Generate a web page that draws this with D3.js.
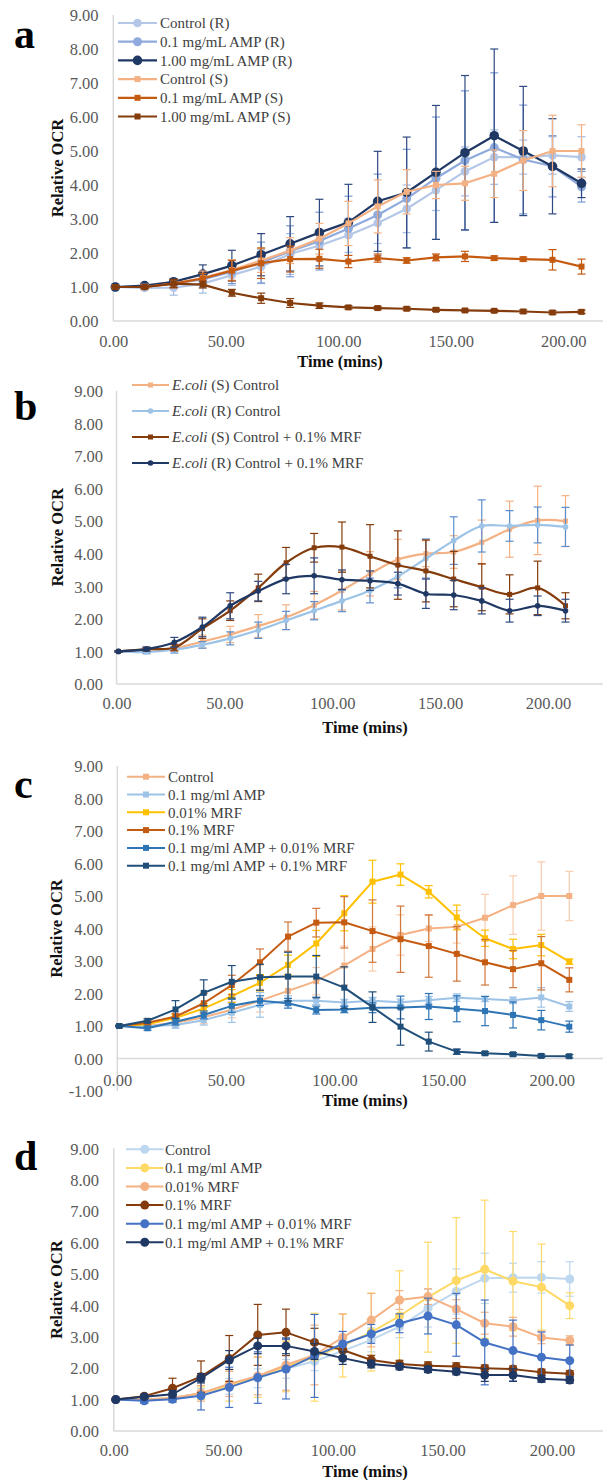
<!DOCTYPE html>
<html>
<head>
<meta charset="utf-8">
<script src="https://cdn.jsdelivr.net/npm/d3@7"></script>
<style>
  body { margin: 0; background: #fff; }
  svg { display: block; }
  text { font-family: "Liberation Serif", "Times New Roman", serif; }
</style>
</head>
<body>
<div id="chart"></div>
<script>
// sampling times (mins), same for all panels
var times = [0.9, 13.9, 26.8, 39.8, 52.7, 65.7, 78.6, 91.6, 104.5, 117.5, 130.4, 143.4, 156.3, 169.3, 182.2, 195.2, 208.1];
var xTicks = [0, 50, 100, 150, 200];
var yTicks = [0, 1, 2, 3, 4, 5, 6, 7, 8, 9];
var yTicksC = [-1, 0, 1, 2, 3, 4, 5, 6, 7, 8, 9];

// ---- panel a
var aNames = ["Control (R)", "0.1 mg/mL AMP (R)", "1.00 mg/mL AMP (R)", "Control (S)", "0.1 mg/mL AMP (S)", "1.00 mg/mL AMP (S)"];
var aControlR = [1.00,0.97,0.98,1.10,1.35,1.60,1.97,2.22,2.52,2.88,3.30,3.85,4.40,4.82,4.82,4.87,4.82];
var aControlRErr = [0.03,0.05,0.22,0.28,0.30,0.50,0.60,0.45,0.50,0.60,0.70,0.60,0.72,0.80,0.50,0.55,0.60];
var aAmpLowR = [1.00,1.02,1.10,1.22,1.45,1.72,2.05,2.35,2.72,3.12,3.60,4.20,4.72,5.10,4.75,4.55,3.95];
var aAmpLowRErr = [0.03,0.05,0.12,0.22,0.35,0.60,0.75,0.85,0.95,1.20,1.45,1.80,2.05,2.20,1.60,0.90,0.45];
var aAmpHighR = [1.00,1.04,1.15,1.38,1.63,1.95,2.27,2.60,2.90,3.52,3.78,4.37,4.95,5.45,5.00,4.55,4.05];
var aAmpHighRErr = [0.03,0.05,0.10,0.27,0.45,0.62,0.80,0.98,1.12,1.47,1.63,1.97,2.27,2.55,1.90,1.40,0.42];
var aControlS = [1.00,1.00,1.10,1.27,1.50,1.78,2.07,2.42,2.87,3.37,3.80,4.00,4.05,4.33,4.72,5.00,5.00];
var aControlSErr = [0.02,0.08,0.12,0.20,0.30,0.35,0.38,0.45,0.65,0.78,0.65,0.40,0.50,0.70,0.88,1.05,0.77];
var aAmpLowS = [1.00,1.00,1.10,1.25,1.48,1.70,1.82,1.83,1.75,1.85,1.78,1.87,1.90,1.85,1.82,1.80,1.60];
var aAmpLowSErr = [0.02,0.05,0.12,0.15,0.30,0.45,0.38,0.28,0.18,0.12,0.08,0.10,0.15,0.06,0.06,0.30,0.22];
var aAmpHighS = [1.00,1.00,1.10,1.07,0.83,0.67,0.53,0.45,0.40,0.38,0.36,0.33,0.31,0.30,0.28,0.25,0.27];
var aAmpHighSErr = [0.02,0.04,0.12,0.10,0.10,0.15,0.13,0.08,0.05,0.05,0.05,0.05,0.04,0.04,0.05,0.05,0.05];

// ---- panel b
var bNames = ["E.coli (S) Control", "E.coli (R) Control", "E.coli (S) Control + 0.1% MRF", "E.coli (R) Control + 0.1% MRF"];
var bControlS = [1.00,1.02,1.10,1.30,1.52,1.78,2.05,2.42,2.87,3.38,3.82,4.00,4.05,4.35,4.75,5.02,5.00];
var bControlSErr = [0.02,0.06,0.10,0.20,0.25,0.35,0.38,0.42,0.60,0.68,0.62,0.40,0.50,0.68,0.86,1.05,0.78];
var bControlR = [1.00,0.98,1.05,1.20,1.40,1.65,1.95,2.25,2.55,2.87,3.30,3.85,4.40,4.85,4.85,4.88,4.82];
var bControlRErr = [0.02,0.05,0.10,0.10,0.20,0.25,0.28,0.28,0.33,0.38,0.35,0.60,0.73,0.80,0.47,0.55,0.60];
var bMrfS = [1.00,1.07,1.12,1.70,2.25,2.95,3.72,4.18,4.20,3.92,3.65,3.47,3.22,2.97,2.75,2.95,2.40];
var bMrfSErr = [0.02,0.06,0.10,0.30,0.30,0.42,0.47,0.44,0.77,0.97,1.05,0.95,0.85,0.72,0.60,0.82,0.40];
var bMrfR = [1.00,1.07,1.28,1.75,2.40,2.85,3.22,3.32,3.20,3.17,3.08,2.77,2.73,2.55,2.25,2.40,2.25];
var bMrfRErr = [0.02,0.06,0.15,0.30,0.40,0.30,0.45,0.55,0.30,0.30,0.35,0.45,0.45,0.40,0.35,0.30,0.35];

// ---- panel c
var cNames = ["Control", "0.1 mg/ml AMP", "0.01% MRF", "0.1% MRF", "0.1 mg/ml AMP + 0.01% MRF", "0.1 mg/ml AMP + 0.1% MRF"];
var cControl = [1.00,1.00,1.10,1.27,1.50,1.78,2.08,2.38,2.86,3.37,3.80,4.00,4.05,4.33,4.72,5.00,5.00];
var cControlErr = [0.02,0.06,0.10,0.20,0.25,0.35,0.38,0.42,0.60,0.68,0.62,0.40,0.50,0.72,0.90,1.05,0.76];
var cAmp = [1.00,1.00,1.03,1.18,1.41,1.65,1.78,1.78,1.72,1.78,1.73,1.79,1.87,1.83,1.79,1.88,1.60];
var cAmpErr = [0.02,0.05,0.10,0.15,0.30,0.38,0.15,0.12,0.10,0.10,0.10,0.12,0.12,0.08,0.10,0.30,0.15];
var cMrfLow = [1.00,1.05,1.25,1.54,1.92,2.33,2.88,3.54,4.47,5.44,5.66,5.13,4.34,3.70,3.37,3.49,2.98];
var cMrfLowErr = [0.02,0.05,0.10,0.15,0.20,0.25,0.30,0.40,0.54,0.66,0.33,0.19,0.38,0.25,0.30,0.33,0.08];
var cMrfHigh = [1.00,1.10,1.29,1.70,2.26,2.96,3.75,4.18,4.19,3.92,3.67,3.46,3.22,2.96,2.75,2.93,2.42];
var cMrfHighErr = [0.02,0.06,0.10,0.30,0.30,0.41,0.45,0.44,0.79,0.96,1.02,0.96,0.84,0.70,0.57,0.82,0.37];
var cAmpMrfLow = [1.00,0.93,1.13,1.34,1.62,1.78,1.70,1.49,1.51,1.56,1.57,1.60,1.53,1.46,1.34,1.18,0.98];
var cAmpMrfLowErr = [0.02,0.06,0.10,0.12,0.20,0.15,0.15,0.12,0.10,0.15,0.35,0.40,0.40,0.45,0.40,0.30,0.17];
var cAmpMrfHigh = [1.00,1.16,1.51,2.02,2.36,2.50,2.52,2.52,2.18,1.58,0.98,0.52,0.21,0.16,0.13,0.08,0.07];
var cAmpMrfHighErr = [0.02,0.06,0.27,0.40,0.50,0.40,0.75,0.65,0.64,0.47,0.57,0.29,0.08,0.05,0.05,0.05,0.05];

// ---- panel d
var dNames = ["Control", "0.1 mg/ml AMP", "0.01% MRF", "0.1% MRF", "0.1 mg/ml AMP + 0.01% MRF", "0.1 mg/ml AMP + 0.1% MRF"];
var dControl = [1.00,0.98,1.05,1.20,1.42,1.68,1.98,2.22,2.55,2.90,3.32,3.91,4.44,4.86,4.88,4.89,4.84];
var dControlErr = [0.02,0.05,0.10,0.15,0.25,0.30,0.30,0.30,0.35,0.38,0.35,0.60,0.72,0.80,0.46,0.50,0.55];
var dAmp = [1.00,1.00,1.05,1.20,1.45,1.72,2.05,2.35,2.72,3.15,3.66,4.26,4.79,5.15,4.77,4.58,3.99];
var dAmpErr = [0.02,0.06,0.10,0.20,0.50,0.65,0.80,1.40,1.00,1.24,1.44,1.75,2.00,2.20,1.58,1.37,0.41];
var dMrfLow = [1.00,1.00,1.05,1.20,1.50,1.75,2.10,2.42,2.98,3.53,4.17,4.28,3.88,3.43,3.32,2.98,2.88];
var dMrfLowErr = [0.02,0.05,0.10,0.25,0.40,0.60,0.80,0.95,0.75,0.85,0.30,0.25,0.30,0.35,0.30,0.20,0.15];
var dMrfHigh = [1.00,1.11,1.36,1.73,2.31,3.06,3.14,2.82,2.58,2.26,2.13,2.08,2.05,2.00,1.97,1.87,1.82];
var dMrfHighErr = [0.02,0.06,0.32,0.50,0.73,0.97,0.74,0.45,0.20,0.15,0.12,0.12,0.12,0.10,0.10,0.10,0.10];
var dAmpMrfLow = [1.00,0.96,1.01,1.12,1.39,1.70,1.97,2.39,2.77,3.09,3.43,3.66,3.38,2.82,2.56,2.35,2.24];
var dAmpMrfLowErr = [0.02,0.08,0.10,0.45,0.64,0.82,0.95,1.32,0.40,0.30,0.30,0.57,1.00,1.35,0.97,0.80,0.50];
var dAmpMrfHigh = [1.00,1.09,1.17,1.68,2.26,2.71,2.71,2.53,2.32,2.13,2.05,1.96,1.89,1.78,1.78,1.66,1.62];
var dAmpMrfHighErr = [0.02,0.05,0.12,0.15,0.30,0.25,0.25,0.25,0.20,0.12,0.10,0.10,0.10,0.20,0.20,0.10,0.10];

var W = 603, H = 1480;
var svg = d3.select("#chart").append("svg").attr("width", W).attr("height", H);

// series helper: mean, err, look
function ser(name, vals, errs, color, errColor, shape, size){
	return {name: name, vals: vals, errs: errs, color: color, errColor: errColor, shape: shape, size: size};
}

var panels = [
	{letter: "a", letterY: 48, x0: 113.3, x200: 563.3, yTop: 15, yZero: 321, yMin: 0, ticks: yTicks,
	 yLabelX: 98.5, xLabelY: 341, xTitleX: 340, xTitleY: 361, yTitleX: 57.7, lw: 2.2, smooth: false,
	 leg: {y0: 23, dy: 18.7, x1: 118, x2: 157, tx: 160},
	 series: [
		ser(aNames[0], aControlR, aControlRErr, "#b4c7e7", "#a3bce4", "circle", 4.3),
		ser(aNames[1], aAmpLowR, aAmpLowRErr, "#8faadc", "#7b9ad3", "circle", 4.5),
		ser(aNames[2], aAmpHighR, aAmpHighRErr, "#203864", "#2f4a80", "circle", 4.8),
		ser(aNames[3], aControlS, aControlSErr, "#f4b183", "#f4b183", "square", 6),
		ser(aNames[4], aAmpLowS, aAmpLowSErr, "#c55a11", "#c55a11", "square", 6),
		ser(aNames[5], aAmpHighS, aAmpHighSErr, "#843c0c", "#843c0c", "square", 6)
	]},
	{letter: "b", letterY: 420, x0: 116.5, x200: 548, yTop: 390.7, yZero: 684, yMin: 0, ticks: yTicks,
	 yLabelX: 103, xLabelY: 703.3, xTitleX: 365, xTitleY: 727, yTitleX: 57.7, lw: 2.2, smooth: true,
	 leg: {y0: 385, dy: 26, x1: 132, x2: 169, tx: 172},
	 series: [
		ser(bNames[0], bControlS, bControlSErr, "#f4b183", "#f4b183", "square", 5),
		ser(bNames[1], bControlR, bControlRErr, "#9dc3e6", "#5b8fd0", "circle", 2.8),
		ser(bNames[2], bMrfS, bMrfSErr, "#843c0c", "#843c0c", "square", 5),
		ser(bNames[3], bMrfR, bMrfRErr, "#203864", "#2f4a80", "circle", 2.8)
	]},
	{letter: "c", letterY: 798, x0: 117.3, x200: 551.7, yTop: 766, yZero: 1058.5, yMin: -1, ticks: yTicksC,
	 yLabelX: 103, xLabelY: 1080, xTitleX: 365, xTitleY: 1100, yTitleX: 55.8, lw: 2, smooth: false,
	 leg: {y0: 776.7, dy: 17.8, x1: 127, x2: 165, tx: 168},
	 series: [
		ser(cNames[0], cControl, cControlErr, "#f4b183", "#f8cbad", "square", 6),
		ser(cNames[1], cAmp, cAmpErr, "#9dc3e6", "#9dc3e6", "square", 6),
		ser(cNames[2], cMrfLow, cMrfLowErr, "#ffc000", "#ffc000", "square", 6),
		ser(cNames[3], cMrfHigh, cMrfHighErr, "#c55a11", "#d0773a", "square", 6),
		ser(cNames[4], cAmpMrfLow, cAmpMrfLowErr, "#2e75b6", "#2e75b6", "square", 6),
		ser(cNames[5], cAmpMrfHigh, cAmpMrfHighErr, "#1f4e79", "#1f4e79", "square", 6)
	]},
	{letter: "d", letterY: 1170, x0: 113.8, x200: 552, yTop: 1148.3, yZero: 1431, yMin: 0, ticks: yTicks,
	 yLabelX: 99, xLabelY: 1450, xTitleX: 365, xTitleY: 1471.7, yTitleX: 55.8, lw: 2, smooth: false,
	 leg: {y0: 1149.3, dy: 18.6, x1: 126, x2: 163.5, tx: 165},
	 series: [
		ser(dNames[0], dControl, dControlErr, "#bdd7ee", "#bdd7ee", "circle", 4.5),
		ser(dNames[1], dAmp, dAmpErr, "#ffd966", "#ffd966", "circle", 4.5),
		ser(dNames[2], dMrfLow, dMrfLowErr, "#f4b183", "#f4b183", "circle", 4.5),
		ser(dNames[3], dMrfHigh, dMrfHighErr, "#843c0c", "#843c0c", "circle", 4.5),
		ser(dNames[4], dAmpMrfLow, dAmpMrfLowErr, "#4472c4", "#4472c4", "circle", 4.5),
		ser(dNames[5], dAmpMrfHigh, dAmpMrfHighErr, "#203864", "#203864", "circle", 4.5)
	]}
];

function marker(g, s, cx, cy){
	if(s.shape == "circle"){
		g.append("circle").attr("cx", cx).attr("cy", cy).attr("r", s.size).attr("fill", s.color);
	}else{
		g.append("rect").attr("x", cx - s.size/2).attr("y", cy - s.size/2)
			.attr("width", s.size).attr("height", s.size).attr("fill", s.color);
	}
}

function drawPanel(p){
	var g = svg.append("g");
	var x = d3.scaleLinear().domain([0, 200]).range([p.x0, p.x200]);
	var y = d3.scaleLinear().domain([0, 9]).range([p.yZero, p.yTop]);

	// axis lines
	g.append("line").attr("x1", p.x0).attr("x2", p.x0).attr("y1", y(9)).attr("y2", y(p.yMin))
		.attr("stroke", "#d9d9d9").attr("stroke-width", 1.5);
	g.append("line").attr("x1", p.x0).attr("x2", W).attr("y1", y(0)).attr("y2", y(0))
		.attr("stroke", "#d9d9d9").attr("stroke-width", 1.5);

	// tick labels
	var ya = g.append("g").attr("transform", "translate(" + p.yLabelX + ",0)")
		.call(d3.axisLeft(y).tickValues(p.ticks).tickSize(0).tickPadding(0).tickFormat(function(d){ return d.toFixed(2); }));
	var xa = g.append("g").attr("transform", "translate(0," + p.xLabelY + ")")
		.call(d3.axisBottom(x).tickValues(xTicks).tickSize(0).tickPadding(0).tickFormat(function(d){ return d.toFixed(2); }));
	g.selectAll(".domain").remove();
	ya.selectAll("text").attr("dy", "0.35em");
	xa.selectAll("text").attr("dy", "0.35em");
	g.selectAll(".tick text").attr("font-size", 16.5).attr("fill", "#595959")
		.attr("font-family", "Liberation Serif, Times New Roman, serif");

	// titles
	g.append("text").attr("x", p.xTitleX).attr("y", p.xTitleY).attr("dy", "0.35em")
		.attr("text-anchor", "middle").attr("font-weight", "bold").attr("font-size", 16.5)
		.attr("fill", "#111").text("Time (mins)");
	var ymid = (y(9) + y(p.yMin)) / 2;
	g.append("text").attr("transform", "translate(" + p.yTitleX + "," + ymid + ") rotate(-90)")
		.attr("dy", "0.35em").attr("text-anchor", "middle").attr("font-weight", "bold")
		.attr("font-size", 16.5).attr("fill", "#111").text("Relative OCR");
	g.append("text").attr("x", 14).attr("y", p.letterY).attr("font-weight", "bold")
		.attr("font-size", 42).attr("fill", "#000").text(p.letter);

	var lineGen = d3.line().x(function(d, i){ return x(times[i]); }).y(function(d){ return y(d); });
	if(p.smooth) lineGen.curve(d3.curveCatmullRom.alpha(0.5));

	p.series.forEach(function(s){
		var sg = g.append("g");
		// error bars
		s.vals.forEach(function(v, i){
			var cx = x(times[i]), e = s.errs[i];
			sg.append("line").attr("x1", cx).attr("x2", cx).attr("y1", y(v - e)).attr("y2", y(v + e))
				.attr("stroke", s.errColor).attr("stroke-width", 1.2);
			[v - e, v + e].forEach(function(t){
				sg.append("line").attr("x1", cx - 4).attr("x2", cx + 4).attr("y1", y(t)).attr("y2", y(t))
					.attr("stroke", s.errColor).attr("stroke-width", 1.2);
			});
		});
		sg.append("path").attr("d", lineGen(s.vals)).attr("fill", "none")
			.attr("stroke", s.color).attr("stroke-width", p.lw).attr("stroke-linejoin", "round");
		s.vals.forEach(function(v, i){ marker(sg, s, x(times[i]), y(v)); });
	});

	// legend
	p.series.forEach(function(s, i){
		var ly = p.leg.y0 + i * p.leg.dy;
		g.append("line").attr("x1", p.leg.x1).attr("x2", p.leg.x2).attr("y1", ly).attr("y2", ly)
			.attr("stroke", s.color).attr("stroke-width", p.lw);
		marker(g, s, (p.leg.x1 + p.leg.x2) / 2, ly);
		var t = g.append("text").attr("x", p.leg.tx).attr("y", ly).attr("dy", "0.35em")
			.attr("font-size", 15).attr("fill", "#404040");
		if(s.name.indexOf("E.coli") == 0){
			t.append("tspan").attr("font-style", "italic").text("E.coli");
			t.append("tspan").text(s.name.substring(6));
		}else{
			t.text(s.name);
		}
	});
}

panels.forEach(drawPanel);
</script>
</body>
</html>
